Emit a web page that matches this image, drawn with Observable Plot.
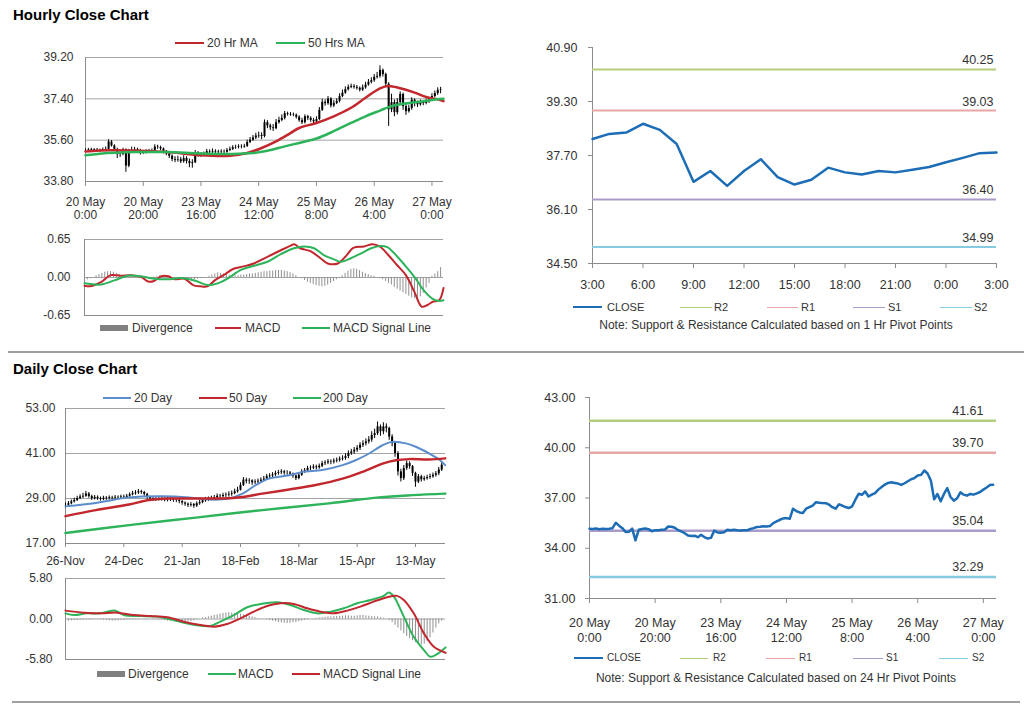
<!DOCTYPE html>
<html><head><meta charset="utf-8">
<script src="https://cdn.jsdelivr.net/npm/d3@7"></script>
<script src="https://cdn.jsdelivr.net/npm/@observablehq/plot@0.6"></script>
<style>
body{margin:0;background:#fff;font-family:"Liberation Sans",Arial,sans-serif;}
#root{position:relative;width:1024px;height:706px;overflow:hidden;background:#fff;}
.t{position:absolute;white-space:nowrap;color:#333;}
.title{position:absolute;white-space:nowrap;font-weight:bold;font-size:15px;color:#000;}
.sw{position:absolute;}
</style></head>
<body><div id="root"></div>
<script>
// ---------------- DATA ----------------
const hourlyClose = [35.17,35.15,35.18,35.14,35.16,35.15,35.17,35.20,35.52,35.35,
 35.20,34.97,34.98,35.17,34.47,35.10,35.15,35.18,35.14,35.02,
 35.07,35.08,35.10,35.12,35.30,35.28,35.22,35.08,35.00,34.90,
 34.76,34.73,34.75,34.66,34.80,34.67,34.58,34.62,35.05,34.94,
 34.93,34.95,35.10,35.08,35.11,35.08,35.06,35.08,35.07,35.15,
 35.20,35.27,35.28,35.31,35.30,35.33,35.50,35.60,35.70,35.78,
 35.80,35.76,36.36,36.22,36.14,36.10,36.36,36.46,36.55,36.75,
 36.72,36.70,36.69,36.60,36.45,36.36,36.62,36.55,36.46,36.40,
 36.50,36.90,37.25,37.19,37.39,37.09,37.20,37.29,37.50,37.65,
 37.80,37.90,37.94,37.90,37.86,37.78,37.88,38.00,38.12,38.19,
 38.34,38.38,38.64,38.46,38.04,36.92,37.24,36.80,37.24,37.59,
 37.06,36.84,36.98,37.34,37.20,37.14,37.24,37.20,37.28,37.36,
 37.50,37.63,37.77,37.79];
const hourlyHigh = [35.22,35.24,35.25,35.23,35.24,35.21,35.26,35.30,35.62,35.58,
 35.40,35.25,35.10,35.25,35.22,35.20,35.30,35.28,35.25,35.20,
 35.15,35.18,35.20,35.22,35.40,35.38,35.34,35.26,35.15,35.06,
 34.96,34.88,34.90,34.85,34.92,34.88,34.78,34.75,35.15,35.10,
 35.05,35.08,35.20,35.18,35.22,35.18,35.16,35.18,35.17,35.24,
 35.30,35.36,35.38,35.40,35.40,35.42,35.60,35.72,35.80,35.90,
 35.95,35.92,36.48,36.45,36.30,36.28,36.50,36.60,36.70,36.85,
 36.82,36.80,36.78,36.74,36.66,36.55,36.70,36.68,36.62,36.55,
 36.62,37.02,37.38,37.35,37.50,37.45,37.32,37.40,37.62,37.78,
 37.92,38.00,38.04,38.02,37.98,37.92,38.00,38.12,38.24,38.32,
 38.46,38.55,38.84,38.70,38.52,38.10,37.60,37.35,37.40,37.70,
 37.65,37.15,37.12,37.45,37.40,37.30,37.35,37.32,37.38,37.46,
 37.62,37.74,37.88,37.90];
const hourlyLow = [35.08,35.10,35.11,35.08,35.09,35.07,35.11,35.12,35.18,35.30,
 35.12,34.80,34.85,34.92,34.20,34.40,35.02,35.08,35.05,34.95,
 34.98,35.00,35.02,35.04,35.08,35.20,35.14,35.00,34.92,34.80,
 34.66,34.62,34.64,34.58,34.60,34.56,34.40,34.38,34.58,34.85,
 34.85,34.88,34.90,35.00,35.02,35.00,34.98,35.00,35.00,35.03,
 35.10,35.15,35.20,35.22,35.22,35.25,35.28,35.45,35.55,35.62,
 35.68,35.62,35.70,36.10,36.02,35.98,36.05,36.30,36.40,36.48,
 36.65,36.64,36.62,36.52,36.38,36.28,36.30,36.45,36.38,36.30,
 36.35,36.45,36.85,37.08,37.12,37.00,37.02,37.15,37.22,37.45,
 37.60,37.74,37.84,37.82,37.78,37.70,37.72,37.82,37.95,38.05,
 38.12,38.26,38.30,38.35,37.90,36.20,36.80,36.62,36.70,37.10,
 36.90,36.68,36.78,36.90,37.05,37.02,37.08,37.10,37.14,37.20,
 37.30,37.45,37.55,37.62];
const hourTickIdx = [0,20,40,60,80,100,120];
const hourTickLabels = ["20 May\n0:00","20 May\n20:00","23 May\n16:00","24 May\n12:00","25 May\n8:00","26 May\n4:00","27 May\n0:00"];
const hourPriceTicks = [33.8,35.6,37.4,39.2];

const ma20HrIdx = [0,9,28,40,50,56,61,66,71,74,80,86,92,97,102,105,109,114,118,122,124];
const ma20HrVal = [35.11,35.16,35.08,34.94,34.92,35.04,35.26,35.55,35.91,36.13,36.35,36.64,37.01,37.45,37.86,37.96,37.86,37.67,37.48,37.38,37.30];
const ma50HrIdx = [0,5,17,28,40,51,58,63,69,74,80,86,92,97,102,105,109,115,120,124];
const ma50HrVal = [34.94,35.01,35.08,35.08,35.02,35.00,35.04,35.14,35.33,35.48,35.67,35.99,36.35,36.64,36.89,37.04,37.16,37.26,37.35,37.40];

const hMacdIdx = [0,2,6,9,12.5,16,19.5,22,24,26.5,29,31,34.5,37.5,40,42.5,45,48,51.5,55,58.5,63,68,71,72.5,74.5,78,81.5,84,87.5,90,93,96.5,99.5,102,105,108,111,114,116.5,118.5,120.5,122.5,124];
const hMacdVal = [-0.14,-0.15,-0.07,0.04,0.03,0.04,0.01,-0.07,-0.06,0.02,0.02,-0.03,-0.02,-0.13,-0.15,-0.15,-0.05,0.04,0.15,0.19,0.24,0.35,0.47,0.54,0.57,0.50,0.45,0.33,0.24,0.24,0.35,0.51,0.53,0.57,0.53,0.38,0.21,0.04,-0.25,-0.50,-0.47,-0.41,-0.39,-0.18];
const hSignalIdx = [0,5.7,10.3,15,19.5,24,28.7,33.3,38,42.5,46,49.4,54,58.6,63.2,67.8,72.4,76,79.3,82.8,86.2,88.5,92,95.4,99,102.3,104.6,108,111.5,114.4,117.2,120.1,122.4,124];
const hSignalVal = [-0.10,-0.12,-0.05,0.03,0.02,-0.02,-0.03,-0.01,-0.05,-0.13,-0.10,-0.02,0.13,0.20,0.27,0.40,0.50,0.53,0.50,0.38,0.31,0.27,0.33,0.41,0.50,0.54,0.52,0.36,0.16,-0.02,-0.22,-0.36,-0.40,-0.39];
const hDivergence = [-0.05,-0.04,-0.02,0,
 0.03,0.05,0.07,0.09,0.10,0.10,0.09,0.07,0.05,
 0.03,0.02,0.01,0.01,0,-0.01,0,-0.01,
 -0.02,-0.03,-0.02,0.01,0.02,0.03,0.03,0.02,0.01,0,
 -0.01,-0.01,-0.02,-0.03,-0.04,-0.05,-0.05,-0.04,-0.03,-0.02,-0.01,0,0.02,
 0.04,0.06,0.08,0.07,0.06,0.05,0.04,0.04,0.03,0.03,0.04,0.04,0.05,0.06,0.06,0.07,0.08,
 0.09,0.10,0.10,0.11,0.11,0.12,0.12,0.12,0.11,0.10,0.08,0.06,0.03,0,-0.02,
 -0.05,-0.08,-0.10,-0.12,-0.14,-0.15,-0.16,-0.15,-0.13,-0.10,-0.07,-0.04,-0.01,0.03,0.07,
 0.11,0.14,0.15,0.14,0.12,0.09,0.07,0.05,0.03,0.02,
 0,-0.02,-0.04,-0.07,-0.10,-0.13,-0.17,-0.20,-0.23,-0.26,-0.29,-0.32,-0.35,-0.36,-0.36,-0.33,-0.27,
 -0.18,-0.10,0.02,0.06,0.10,0.17];
const hMacdTicks = [-0.65,0,0.65];

const pivotNames = ["R2","R1","S1","S2"];
const pivot1hVals = [40.25,39.03,36.40,34.99];
const pivot24hVals = [41.61,39.70,35.04,32.29];
const lastDayLabels = ["3:00","6:00","9:00","12:00","15:00","18:00","21:00","0:00","3:00"];
const lastDayTicks = [0,3,6,9,12,15,18,21,24];
const pivot1hTicks = [34.5,36.1,37.7,39.3,40.9];
const pivot24hTicks = [31,34,37,40,43];

const dailyClose = [27.2,27.6,28.1,28.5,29.0,29.4,29.6,30.2,29.5,29.0,
 29.3,29.0,28.8,29.1,29.0,29.2,29.1,29.3,29.2,29.4,
 29.3,29.6,30.0,30.3,30.5,30.8,30.6,30.1,29.3,28.9,
 28.7,28.8,28.9,28.8,28.6,28.7,28.8,28.6,28.5,28.2,
 27.8,27.5,27.2,27.4,27.0,27.6,27.9,28.4,28.7,28.8,
 29.0,29.2,29.6,29.5,29.8,29.9,30.1,30.3,30.8,31.2,
 32.5,33.9,33.6,33.7,33.2,33.4,33.6,33.9,34.2,34.8,
 35.0,35.3,35.7,35.9,36.1,35.8,35.8,35.5,35.0,34.3,
 35.2,36.1,36.4,37.0,37.1,37.4,37.2,37.6,38.3,38.5,
 38.8,38.7,39.0,39.2,39.5,39.7,40.2,41.0,41.4,41.9,
 42.4,43.2,43.6,44.1,44.6,45.8,46.3,48.1,46.8,48.1,
 47.7,45.4,43.7,41.0,36.1,34.3,37.0,38.3,37.5,35.7,
 33.4,34.8,34.0,34.3,34.6,34.8,35.2,35.6,36.6,37.9];
const dailyHigh = [27.8,28.2,28.6,29.1,29.6,30.0,30.4,30.9,30.6,29.9,
 29.8,29.7,29.4,29.6,29.5,29.7,29.6,29.8,29.7,29.9,
 29.9,30.1,30.5,30.9,31.1,31.4,31.2,30.9,30.4,29.6,
 29.3,29.4,29.4,29.3,29.2,29.3,29.4,29.2,29.0,28.8,
 28.4,28.1,27.8,27.9,27.7,28.1,28.5,29.0,29.3,29.4,
 29.6,29.8,30.2,30.1,30.4,30.5,30.8,31.0,31.5,32.0,
 33.2,34.6,34.4,34.3,34.0,34.0,34.2,34.5,34.9,35.4,
 35.6,35.9,36.3,36.5,36.7,36.5,36.4,36.2,35.8,35.3,
 35.8,36.7,37.0,37.6,37.7,38.0,37.9,38.2,38.9,39.1,
 39.4,39.3,39.6,39.8,40.1,40.4,40.9,41.7,42.1,42.6,
 43.1,43.9,44.4,44.9,45.5,46.8,47.5,49.4,48.6,49.2,
 48.9,48.0,46.0,44.2,41.5,36.8,37.8,39.0,38.8,37.8,
 36.0,35.4,35.2,34.9,35.2,35.5,35.8,36.2,37.3,38.6];
const dailyLow = [26.5,26.9,27.3,27.8,28.2,28.7,29.0,29.3,29.1,28.5,
 28.6,28.5,28.3,28.4,28.5,28.6,28.6,28.7,28.8,28.8,
 28.9,29.0,29.3,29.7,29.9,30.1,30.1,29.6,28.8,28.3,
 28.2,28.2,28.3,28.3,28.1,28.1,28.2,28.0,27.9,27.6,
 27.2,26.9,26.6,26.7,26.4,26.6,27.2,27.6,28.0,28.2,
 28.4,28.6,28.9,28.9,29.1,29.3,29.4,29.6,30.0,30.4,
 31.0,32.2,32.9,32.8,32.5,32.7,32.9,33.1,33.5,33.8,
 34.3,34.5,34.9,35.2,35.4,35.2,35.2,34.9,34.4,33.8,
 34.0,34.9,35.7,36.1,36.4,36.7,36.6,36.8,37.2,37.8,
 38.0,38.0,38.2,38.5,38.7,39.0,39.2,39.6,40.5,40.8,
 41.3,41.8,42.6,43.0,43.5,44.0,45.0,45.8,45.6,46.0,
 46.5,44.5,42.8,40.0,35.0,33.4,33.8,36.5,36.8,34.9,
 32.0,33.0,33.4,33.6,33.9,34.1,34.4,34.7,35.1,36.2];
const dayTickIdx = [0,20,40,60,80,100,120];
const dayTickLabels = ["26-Nov","24-Dec","21-Jan","18-Feb","18-Mar","15-Apr","13-May"];
const dayPriceTicks = [17,29,41,53];

const ma20DayIdx = [0,10.4,21.8,33.3,42.4,50.4,56.1,60.7,65.3,69.8,76.7,81.3,88.1,95,99.5,104.1,108.7,112.1,116.7,120.1,124.7,128.1,130.2];
const ma20DayVal = [26.9,27.8,29.3,29.6,29.3,28.7,29.0,30.3,32.6,34.3,35.2,36.1,36.6,37.9,39.2,41.0,43.2,44.1,43.7,42.8,41.0,39.4,37.9];
const ma50DayIdx = [0,10.4,21.8,28.7,35.5,44.7,53.8,60.7,67.5,76.7,85.8,95,101.8,108.7,113.3,117.8,124.7,130.2];
const ma50DayVal = [24.3,25.9,27.4,28.6,29.0,29.0,29.0,29.4,30.3,31.4,32.6,34.3,36.1,38.3,39.2,39.5,39.4,39.7];
const ma200DayIdx = [0,21.8,44.7,67.5,90.4,107.5,119,130.2];
const ma200DayVal = [19.8,21.9,23.9,25.9,27.7,29.3,29.9,30.3];

const dMacdIdx = [0,2.9,7.4,12,14.3,17.1,20,25.7,31.4,36,40.6,45.1,49.7,53.1,57.7,62.3,66.9,72.6,77.1,81.7,86.3,90.9,95.4,100,104.6,109.1,110.9,112.6,116,119.4,122.9,125.1,127.4,130.3];
const dMacdVal = [0.81,0.57,0.81,0.81,1.05,1.2,0.57,0.43,0.34,-0.05,-0.53,-0.91,-1.0,-0.38,0.57,1.68,2.16,2.4,2.0,1.3,0.81,1.05,1.53,2.25,2.73,3.31,3.79,3.21,0.34,-2.54,-4.45,-5.41,-5.03,-4.07];
const dSignalIdx = [0,6.3,12,17.7,23.4,29.1,34.9,40.6,46.3,50.9,55.4,60,64.6,69.1,73.7,78.3,82.9,87.4,92,96.6,101.1,105.7,110.3,113.7,116,119.4,122.9,126.3,130.3];
const dSignalVal = [1.2,0.91,0.81,0.91,0.57,0.43,0.24,-0.38,-0.86,-1.1,-0.72,0.1,1.05,1.87,2.25,2.16,1.53,1.05,0.81,1.2,1.77,2.49,3.12,3.31,2.73,0.81,-2.06,-3.98,-4.84];
const dDivergence = [-0.3,-0.3,-0.25,-0.2,-0.2,-0.15,-0.15,-0.1,-0.1,-0.1,-0.05,
 -0.05,-0.1,-0.15,-0.2,-0.25,-0.3,-0.3,-0.25,-0.2,-0.2,-0.15,-0.1,-0.1,-0.05,-0.05,0,0.05,0.05,0,-0.05,
 -0.1,-0.15,-0.2,-0.25,-0.3,-0.35,-0.4,-0.45,-0.5,-0.5,-0.45,-0.4,-0.35,-0.25,-0.1,0.05,0.15,0.2,0.3,0.4,
 0.5,0.6,0.7,0.8,0.85,0.9,0.85,0.8,0.75,0.7,0.6,0.5,0.4,0.3,0.2,
 0.1,0.05,0,-0.1,-0.2,-0.3,-0.4,-0.5,-0.55,-0.6,-0.65,-0.6,-0.55,-0.5,-0.4,
 -0.3,-0.2,-0.1,0,0.05,0.1,0.15,0.2,0.25,0.3,0.3,0.35,0.35,0.4,0.4,
 0.45,0.45,0.4,0.4,0.45,0.5,0.5,0.45,0.4,0.35,0.3,0.3,0.2,0.1,0,-0.2,-0.5,
 -0.9,-1.3,-1.7,-2.1,-2.5,-2.8,-3.1,-3.4,-3.6,-3.7,-3.6,-3.2,-2.7,-2.0,-1.3,-0.7,-0.3];
const dMacdTicks = [-5.8,0,5.8];

// ---------------- STYLE ----------------
const C = {
  red:"#c1272d", green:"#2db35a", blue:"#5b8ccc", close:"#1c6db5",
  div:"#8f8f8f", axis:"#8c8c8c", grid:"#a3a3a3", text:"#333",
  pivot:{R2:"#b3cd7e", R1:"#e8a6a6", S1:"#a99cc8", S2:"#86cbe0"}
};
const FONT = '"Liberation Sans", Arial, sans-serif';
const root = document.getElementById("root");
function st(size){return {fontFamily:FONT,fontSize:size+"px",color:C.text,background:"transparent",overflow:"visible"};}
function place(el,left,top){el.style.position="absolute";el.style.left=left+"px";el.style.top=top+"px";root.appendChild(el);}
function pts(idx,val){return idx.map((x,k)=>({x,y:val[k]}));}
function rows(close,high,low){return close.map((c,i)=>({i,close:c,open:i?close[i-1]:c,high:high[i],low:low[i]}));}
function candles(r){return [
  Plot.ruleX(r,{x:"i",y1:"low",y2:"high",stroke:"#000",strokeWidth:1}),
  Plot.ruleX(r,{x:"i",y1:"open",y2:"close",stroke:"#000",strokeWidth:2})
];}
function fmt2(d){return d.toFixed(2);}

// ---------------- PANEL 1: hourly candles ----------------
const hRows = rows(hourlyClose,hourlyHigh,hourlyLow);
const hLab = new Map(hourTickIdx.map((v,k)=>[v,hourTickLabels[k]]));
place(Plot.plot({
  width:460,height:180,marginLeft:85,marginRight:17,marginTop:7,marginBottom:49,
  style:st(12),
  x:{domain:[0,124]}, y:{domain:[33.8,39.2]},
  marks:[
    Plot.ruleY(hourPriceTicks.slice(1),{stroke:C.grid}),
    Plot.ruleY([hourPriceTicks[0]],{stroke:C.axis}),
    Plot.ruleX([0],{stroke:C.axis}),
    Plot.axisY({ticks:hourPriceTicks,tickSize:0,tickPadding:12,tickFormat:fmt2,label:null}),
    Plot.axisX({ticks:hourTickIdx,tickSize:5,tickPadding:11,tickFormat:d=>hLab.get(d),label:null,stroke:C.axis,lineHeight:1.05}),
    ...candles(hRows),
    Plot.line(pts(ma20HrIdx,ma20HrVal),{x:"x",y:"y",stroke:C.red,strokeWidth:2.5,curve:"catmull-rom"}),
    Plot.line(pts(ma50HrIdx,ma50HrVal),{x:"x",y:"y",stroke:C.green,strokeWidth:2.5,curve:"catmull-rom"})
  ]
}),0,50);

// ---------------- PANEL 2: hourly MACD ----------------
place(Plot.plot({
  width:460,height:95,marginLeft:84,marginRight:17,marginTop:9,marginBottom:10,
  style:st(12),
  x:{domain:[0,124],axis:null}, y:{domain:[-0.65,0.65]},
  marks:[
    Plot.ruleY([0,0.65],{stroke:C.grid}),
    Plot.ruleY([-0.65],{stroke:C.axis}),
    Plot.ruleX([0],{stroke:C.axis}),
    Plot.axisY({ticks:hMacdTicks,tickSize:0,tickPadding:14,tickFormat:fmt2,label:null}),
    Plot.ruleX(hDivergence.map((v,i)=>({i,v})),{x:"i",y1:0,y2:"v",stroke:C.div,strokeWidth:1}),
    Plot.line(pts(hMacdIdx,hMacdVal),{x:"x",y:"y",stroke:C.red,strokeWidth:2,curve:"catmull-rom"}),
    Plot.line(pts(hSignalIdx,hSignalVal),{x:"x",y:"y",stroke:C.green,strokeWidth:2,curve:"catmull-rom"})
  ]
}),0,230);

// ---------------- PANEL 3: last 24h close vs 1h pivots ----------------
const lastDay = hourlyClose.slice(hourlyClose.length-25).map((y,x)=>({x,y}));
const p1h = pivotNames.map((n,k)=>({n,v:pivot1hVals[k]}));
place(Plot.plot({
  width:524,height:265,marginLeft:92,marginRight:28,marginTop:12,marginBottom:37,
  style:st(12.5),
  x:{domain:[0,24]}, y:{domain:[34.5,40.9]},
  marks:[
    Plot.ruleX([0],{stroke:C.axis}),
    Plot.ruleY([34.5],{stroke:C.axis}),
    Plot.axisY({ticks:pivot1hTicks,tickSize:4,tickPadding:11,tickFormat:fmt2,label:null,stroke:C.axis}),
    Plot.axisX({ticks:lastDayTicks,tickSize:5,tickPadding:12,tickFormat:d=>lastDayLabels[d/3],label:null,stroke:C.axis}),
    ...p1h.map(p=>Plot.ruleY([p.v],{stroke:C.pivot[p.n],strokeWidth:2})),
    Plot.text(p1h,{x:()=>24,y:"v",text:d=>fmt2(d.v),textAnchor:"end",dx:-3,dy:-9,fill:C.text,fontSize:12.5}),
    Plot.line(lastDay,{x:"x",y:"y",stroke:C.close,strokeWidth:2.5})
  ]
}),500,35);

// ---------------- PANEL 4: daily candles ----------------
const dRows = rows(dailyClose,dailyHigh,dailyLow);
const dLab = new Map(dayTickIdx.map((v,k)=>[v,dayTickLabels[k]]));
place(Plot.plot({
  width:460,height:175,marginLeft:65,marginRight:15,marginTop:8,marginBottom:32,
  style:st(12),
  x:{domain:[0,130.3]}, y:{domain:[17,53]},
  marks:[
    Plot.ruleY(dayPriceTicks.slice(1),{stroke:C.grid}),
    Plot.ruleY([dayPriceTicks[0]],{stroke:C.axis}),
    Plot.ruleX([0],{stroke:C.axis}),
    Plot.axisY({ticks:dayPriceTicks,tickSize:0,tickPadding:10,tickFormat:fmt2,label:null}),
    Plot.axisX({ticks:dayTickIdx,tickSize:4,tickPadding:9,tickFormat:d=>dLab.get(d),label:null,stroke:C.axis}),
    ...candles(dRows),
    Plot.line(pts(ma20DayIdx,ma20DayVal),{x:"x",y:"y",stroke:C.blue,strokeWidth:2,curve:"catmull-rom"}),
    Plot.line(pts(ma50DayIdx,ma50DayVal),{x:"x",y:"y",stroke:C.red,strokeWidth:2.5,curve:"catmull-rom"}),
    Plot.line(pts(ma200DayIdx,ma200DayVal),{x:"x",y:"y",stroke:C.green,strokeWidth:2.5,curve:"catmull-rom"})
  ]
}),0,400);

// ---------------- PANEL 5: daily MACD ----------------
place(Plot.plot({
  width:460,height:95,marginLeft:65,marginRight:15,marginTop:8,marginBottom:6,
  style:st(12),
  x:{domain:[0,130.3],axis:null}, y:{domain:[-5.8,5.8]},
  marks:[
    Plot.ruleY([0,5.8],{stroke:C.grid}),
    Plot.ruleY([-5.8],{stroke:C.axis}),
    Plot.ruleX([0],{stroke:C.axis}),
    Plot.axisY({ticks:dMacdTicks,tickSize:0,tickPadding:13,tickFormat:fmt2,label:null}),
    Plot.ruleX(dDivergence.map((v,i)=>({i,v})),{x:"i",y1:0,y2:"v",stroke:C.div,strokeWidth:1}),
    Plot.line(pts(dMacdIdx,dMacdVal),{x:"x",y:"y",stroke:C.green,strokeWidth:2,curve:"catmull-rom"}),
    Plot.line(pts(dSignalIdx,dSignalVal),{x:"x",y:"y",stroke:C.red,strokeWidth:2,curve:"catmull-rom"})
  ]
}),0,570);

// ---------------- PANEL 6: hourly close vs 24h pivots ----------------
const p24 = pivotNames.map((n,k)=>({n,v:pivot24hVals[k]}));
place(Plot.plot({
  width:524,height:265,marginLeft:89,marginRight:28,marginTop:12,marginBottom:52,
  style:st(12.5),
  x:{domain:[0,124]}, y:{domain:[31,43]},
  marks:[
    Plot.ruleX([0],{stroke:C.axis}),
    Plot.ruleY([31],{stroke:C.axis}),
    Plot.axisY({ticks:pivot24hTicks,tickSize:4,tickPadding:10,tickFormat:fmt2,label:null,stroke:C.axis}),
    Plot.axisX({ticks:hourTickIdx,tickSize:5,tickPadding:13,tickFormat:d=>hLab.get(d),label:null,stroke:C.axis,lineHeight:1.2}),
    ...p24.map(p=>Plot.ruleY([p.v],{stroke:C.pivot[p.n],strokeWidth:2.5})),
    Plot.text(p24,{x:()=>124,y:"v",text:d=>fmt2(d.v),textAnchor:"end",dx:-13,dy:-10,fill:C.text,fontSize:12.5}),
    Plot.line(hourlyClose.map((y,x)=>({x,y})),{x:"x",y:"y",stroke:C.close,strokeWidth:2.5})
  ]
}),500,385);

// ---------------- HTML text, legends, separators ----------------
function text(x,cy,s,size,extra){const d=document.createElement("div");d.className="t";d.textContent=s;const lh=Math.round(size*1.2);d.style.fontSize=size+"px";d.style.lineHeight=lh+"px";d.style.left=x+"px";d.style.top=(cy-lh/2)+"px";if(extra)Object.assign(d.style,extra);root.appendChild(d);return d;}
function sw(x1,x2,cy,h,color){const d=document.createElement("div");d.className="sw";d.style.left=x1+"px";d.style.width=(x2-x1)+"px";d.style.top=(cy-h/2)+"px";d.style.height=h+"px";d.style.background=color;root.appendChild(d);}
function title(x,top,s){const d=document.createElement("div");d.className="title";d.textContent=s;d.style.left=x+"px";d.style.top=top+"px";root.appendChild(d);}

title(13,6,"Hourly Close Chart");
title(13,360,"Daily Close Chart");
sw(8,1024,352,2,"#a0a0a0");
sw(12,1020,702,2,"#a0a0a0");

// panel 1 legend
sw(175,204,43,2,C.red); text(207,43,"20 Hr MA",12);
sw(276,305,43,2,C.green); text(308,43,"50 Hrs MA",12);
// panel 2 legend
sw(100,128,328,6,"#808080"); text(132,328,"Divergence",12);
sw(215,241,328,2,C.red); text(245,328,"MACD",12);
sw(302,330,328,2,C.green); text(333,328,"MACD Signal Line",12);
// panel 4 legend
sw(103,131,398,2,C.blue); text(134,398,"20 Day",12);
sw(199,227,398,2,C.red); text(229,398,"50 Day",12);
sw(293,321,398,2,C.green); text(323,398,"200 Day",12);
// panel 5 legend
sw(97,125,674,6,"#808080"); text(128,674,"Divergence",12);
sw(208,236,674,2,C.green); text(238,674,"MACD",12);
sw(292,320,674,2,C.red); text(323,674,"MACD Signal Line",12);
// panel 3 legend
const legX3 = [[573,602,607],[680,712,714],[767,798,801],[853,885,888],[940,972,974]];
["CLOSE",...pivotNames].forEach((n,k)=>{const [a,b,t]=legX3[k];sw(a,b,307,k?1:2,k?C.pivot[n]:C.close);text(t,307,n,11);});
text(0,325,"Note: Support & Resistance Calculated based on 1 Hr Pivot Points",12,{width:"1552px",textAlign:"center"});
// panel 6 legend
const legX6 = [[574,603,607],[680,708,713],[766,795,799],[853,883,886],[939,968,972]];
["CLOSE",...pivotNames].forEach((n,k)=>{const [a,b,t]=legX6[k];sw(a,b,658,k?1:2,k?C.pivot[n]:C.close);text(t,658,n,10);});
text(0,678,"Note: Support & Resistance Calculated based on 24 Hr Pivot Points",12,{width:"1552px",textAlign:"center"});
</script>
</body></html>
